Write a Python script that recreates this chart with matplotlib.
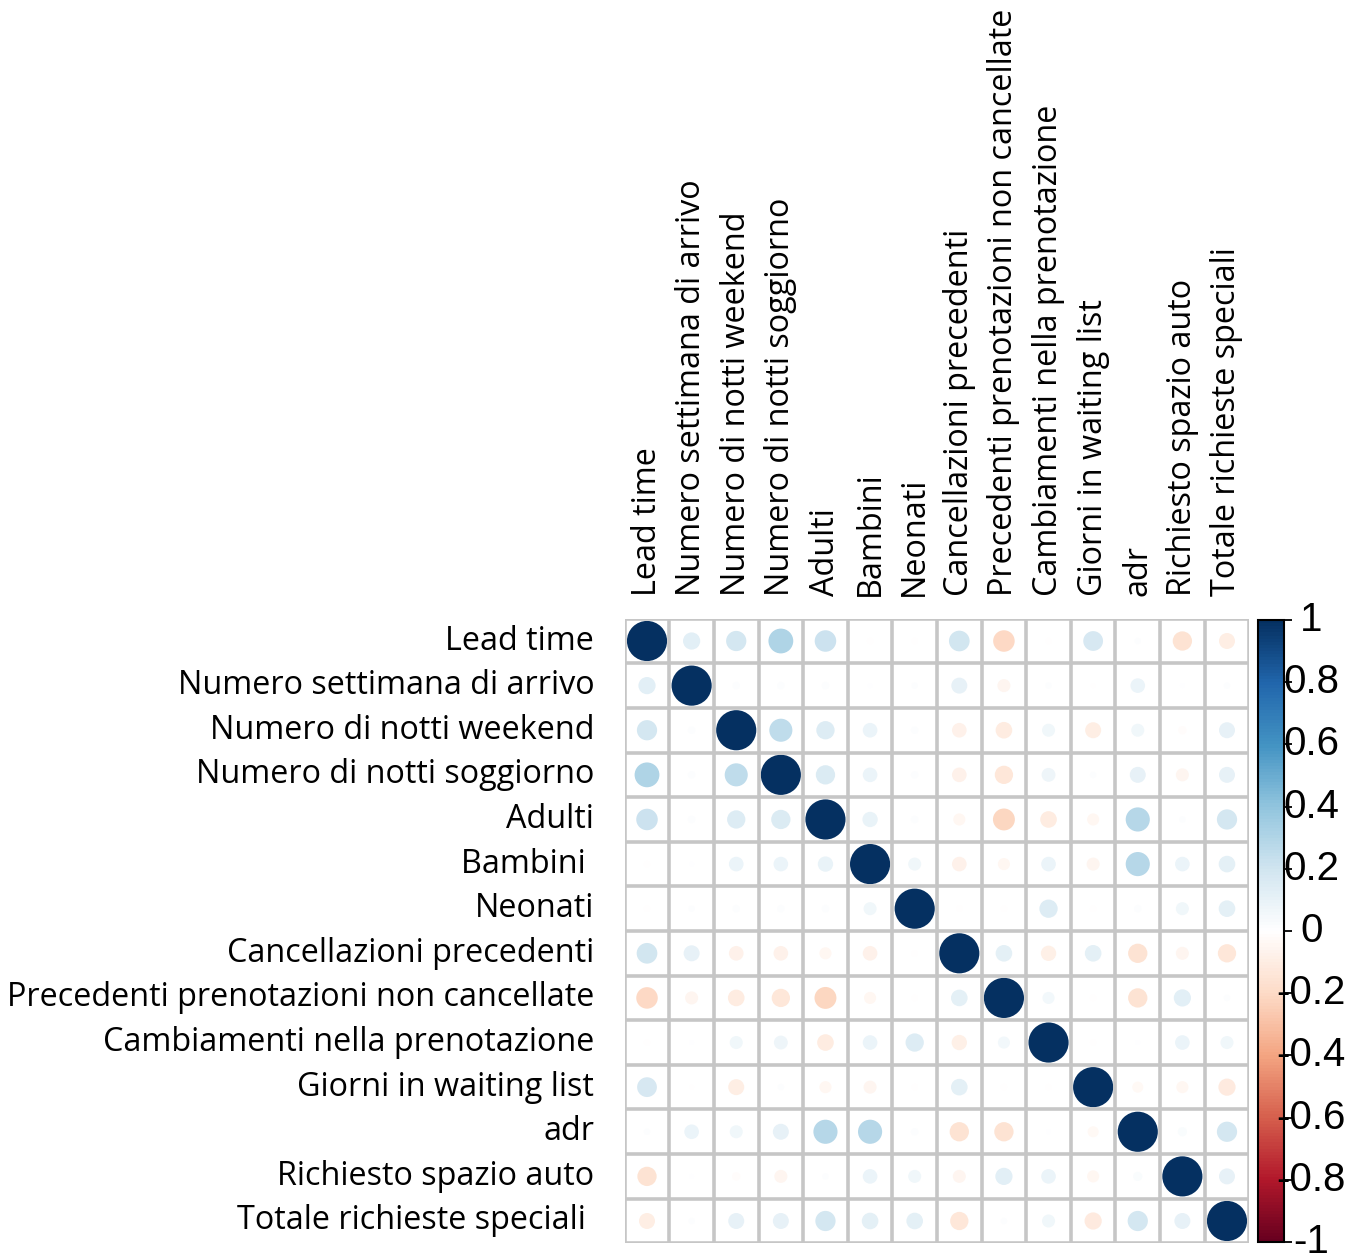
import numpy as np
import matplotlib
matplotlib.use("Agg")
import matplotlib.pyplot as plt
from matplotlib.colors import LinearSegmentedColormap, Normalize
from matplotlib.patches import Circle
from matplotlib.cm import ScalarMappable

# Variable names (rows and columns)
labels = ["Lead time", "Numero settimana di arrivo", "Numero di notti weekend",
          "Numero di notti soggiorno", "Adulti", "Bambini", "Neonati",
          "Cancellazioni precedenti", "Precedenti prenotazioni non cancellate",
          "Cambiamenti nella prenotazione", "Giorni in waiting list", "adr",
          "Richiesto spazio auto", "Totale richieste speciali"]
row_labels = labels.copy()
row_labels[5] = "Bambini "
row_labels[13] = "Totale richieste speciali "

# Correlation matrix
corr = [
    [1.00, 0.12, 0.18, 0.30, 0.21, -0.01, -0.01, 0.19, -0.21, -0.01, 0.17, 0.01, -0.16, -0.10],
    [0.12, 1.00, 0.015, 0.015, 0.015, 0.005, 0.01, 0.10, -0.06, 0.01, -0.005, 0.08, 0.005, 0.01],
    [0.18, 0.015, 1.00, 0.25, 0.14, 0.08, 0.015, -0.08, -0.11, 0.06, -0.10, 0.06, -0.02, 0.10],
    [0.30, 0.015, 0.25, 1.00, 0.16, 0.08, 0.015, -0.08, -0.14, 0.07, 0.01, 0.10, -0.06, 0.10],
    [0.21, 0.015, 0.14, 0.16, 1.00, 0.09, 0.015, -0.05, -0.22, -0.11, -0.05, 0.28, 0.01, 0.18],
    [-0.01, 0.005, 0.08, 0.08, 0.09, 1.00, 0.06, -0.08, -0.05, 0.08, -0.06, 0.28, 0.08, 0.11],
    [-0.01, 0.01, 0.015, 0.015, 0.015, 0.06, 1.00, -0.01, -0.01, 0.14, -0.01, 0.015, 0.06, 0.11],
    [0.19, 0.10, -0.08, -0.08, -0.05, -0.08, -0.01, 1.00, 0.11, -0.09, 0.11, -0.16, -0.06, -0.14],
    [-0.21, -0.06, -0.11, -0.14, -0.22, -0.05, -0.01, 0.11, 1.00, 0.05, -0.01, -0.16, 0.12, 0.01],
    [-0.01, 0.005, 0.06, 0.07, -0.11, 0.08, 0.14, -0.09, 0.05, 1.00, -0.01, 0.005, 0.08, 0.06],
    [0.17, -0.005, -0.10, 0.01, -0.05, -0.06, -0.01, 0.11, -0.01, -0.01, 1.00, -0.04, -0.05, -0.12],
    [0.01, 0.08, 0.06, 0.10, 0.28, 0.28, 0.015, -0.16, -0.16, 0.005, -0.04, 1.00, 0.025, 0.18],
    [-0.16, 0.005, -0.02, -0.06, 0.01, 0.08, 0.06, -0.06, 0.12, 0.08, -0.05, 0.025, 1.00, 0.10],
    [-0.10, 0.01, 0.10, 0.10, 0.18, 0.11, 0.11, -0.14, 0.01, 0.06, -0.12, 0.18, 0.10, 1.00],
]
corr = np.array(corr)
n = len(labels)

cbar_ticks = [-1, -0.8, -0.6, -0.4, -0.2, 0, 0.2, 0.4, 0.6, 0.8, 1]
cbar_labels = ["-1", "-0.8", "-0.6", "-0.4", "-0.2", "0", "0.2", "0.4", "0.6", "0.8", "1"]

# corrplot RdBu palette
col2 = ["#67001F", "#B2182B", "#D6604D", "#F4A582", "#FDDBC7", "#FFFFFF",
        "#D1E5F0", "#92C5DE", "#4393C3", "#2166AC", "#053061"]
cmap = LinearSegmentedColormap.from_list("corrplot", col2, N=200)
norm = Normalize(-1, 1)

fig = plt.figure(figsize=(13.64, 12.58), dpi=100)
ax = fig.add_axes([624.7 / 1364, 1 - 1243.3 / 1258, 624.6 / 1364, 624.6 / 1258])
ax.set_xlim(-0.5, n - 0.5)
ax.set_ylim(n - 0.5, -0.5)
ax.set_aspect("equal")

# circles, size grows with |r|
for i in range(n):
    for j in range(n):
        r = corr[i, j]
        ax.add_patch(Circle((j, i), 0.9 * abs(r) ** 0.4 / 2,
                            facecolor=cmap(norm(r)), edgecolor="none", zorder=2))

# grid
for k in range(n + 1):
    ax.axhline(k - 0.5, color="#c6c6c6", lw=2.6, zorder=3)
    ax.axvline(k - 0.5, color="#c6c6c6", lw=2.6, zorder=3)

for s in ax.spines.values():
    s.set_visible(False)
ax.set_xticks([])
ax.set_yticks([])

lab_font = dict(family="Open Sans", fontsize=23.3, color="black")
for i, name in enumerate(row_labels):
    ax.text(-0.5 - 0.68, i, name, ha="right", va="center", **lab_font)
for j, name in enumerate(labels):
    ax.text(j, -0.5 - 0.52, name, ha="center", va="bottom", rotation=90, **lab_font)

# colorbar
cax = fig.add_axes([1258 / 1364, 1 - 1242 / 1258, 26 / 1364, 622 / 1258])
cb = fig.colorbar(ScalarMappable(norm=norm, cmap=cmap), cax=cax)
cb.set_ticks(cbar_ticks)
cb.set_ticklabels([""] * len(cbar_ticks))
cb.outline.set_linewidth(1.5)
cax.tick_params(length=6, width=1.3, pad=0)
for t, lab in zip(cbar_ticks, cbar_labels):
    cax.text(2.05, t, lab, transform=cax.get_yaxis_transform(), ha="center",
             va="center", family="Liberation Sans", fontsize=29, clip_on=False)

fig.savefig("out.png", dpi=100)
